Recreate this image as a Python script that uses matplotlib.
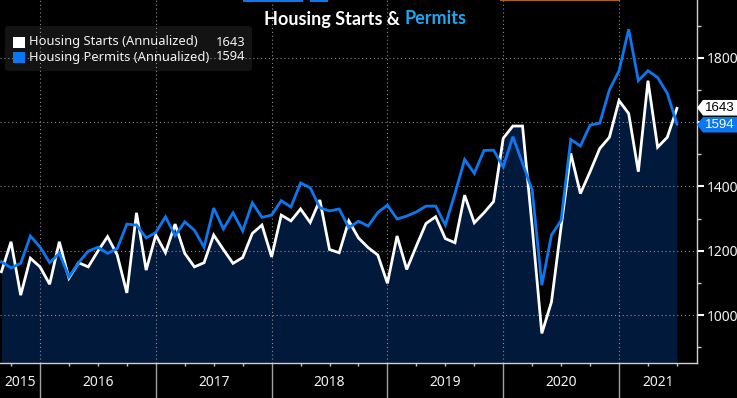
import numpy as np
import matplotlib
matplotlib.use("Agg")
import matplotlib.pyplot as plt
from matplotlib.patches import Polygon, FancyBboxPatch, Rectangle
from matplotlib.transforms import blended_transform_factory

# monthly data, Aug 2015 .. Jun 2021, thousands (annualized)
first_year, first_month = 2015, 8
starts = [1135, 1228, 1062, 1177, 1150, 1096, 1228, 1115, 1163, 1150, 1199, 1244,
          1187, 1069, 1318, 1140, 1249, 1194, 1283, 1192, 1150, 1163, 1249, 1204,
          1161, 1179, 1254, 1280, 1181, 1311, 1293, 1330, 1288, 1358, 1204, 1194,
          1293, 1240, 1210, 1187, 1099, 1246, 1142, 1215, 1285, 1306, 1238, 1225,
          1373, 1287, 1318, 1353, 1550, 1588, 1588, 1275, 943, 1041, 1275, 1503,
          1378, 1446, 1518, 1553, 1667, 1627, 1446, 1729, 1522, 1553, 1643]
permits = [1166, 1147, 1161, 1246, 1212, 1163, 1192, 1119, 1163, 1199, 1211, 1192,
           1207, 1283, 1280, 1240, 1257, 1306, 1247, 1290, 1264, 1211, 1333, 1268,
           1318, 1262, 1349, 1304, 1311, 1356, 1336, 1411, 1396, 1334, 1324, 1330,
           1272, 1292, 1277, 1319, 1342, 1299, 1308, 1321, 1339, 1339, 1280, 1378,
           1484, 1441, 1512, 1513, 1461, 1555, 1472, 1389, 1093, 1249, 1295, 1546,
           1526, 1591, 1597, 1700, 1760, 1889, 1729, 1760, 1739, 1690, 1594]
years = [2015, 2016, 2017, 2018, 2019, 2020, 2021]
yticks = [1000, 1200, 1400, 1600, 1800]
series_names = ["Housing Starts (Annualized)", "Housing Permits (Annualized)"]

W, H = 737, 398
FONT = "Noto Sans"
WHITE = "#f2f2f2"
BLUE = "#0a78f0"
NAVY = "#011a3c"

# x in months since Jan 2016, each month plotted at month end
off = (first_year - 2016) * 12 + (first_month - 1) + 1
x = np.arange(len(starts)) + off

fig = plt.figure(figsize=(W / 100, H / 100), dpi=100, facecolor="black")
ax = fig.add_axes([0, 35 / H, 697 / W, 363 / H])
ax.set_facecolor("black")

ymin, ymax = 851, 1980
ax.fill_between(x, starts, ymin, color=NAVY, lw=0, zorder=1)
ax.plot(x, starts, color="white", lw=2, zorder=3, solid_joinstyle="miter")
ax.plot(x, permits, color=BLUE, lw=2, zorder=4, solid_joinstyle="miter")

ax.set_xlim(-4.145, 68.08)
ax.set_ylim(ymin, ymax)

# y axis on the right; the 1600 label sits under the last-value tags
ax.yaxis.tick_right()
ax.set_yticks(yticks)
ax.set_yticklabels(["" if t == 1600 else str(t) for t in yticks], family=FONT)
ax.set_yticks([900, 1100, 1300, 1500, 1700, 1900], minor=True)
ax.tick_params(axis="y", which="major", direction="out", length=5, width=1.5,
               color="white", labelcolor=WHITE, labelsize=10, pad=2)
ax.tick_params(axis="y", which="minor", direction="out", length=3, width=1, color="#cccccc")

# x axis: year boundaries + quarter ticks
yb = [(y - 2016) * 12 for y in years[1:]]
ax.set_xticks(yb)
ax.set_xticks([q for q in range(-3, 69, 3) if q % 12 != 0], minor=True)
ax.set_xticklabels([])
ax.tick_params(axis="x", which="major", direction="out", length=26, width=1, color="#a0a0a0")
ax.tick_params(axis="x", which="minor", direction="out", length=2.5, width=1, color="#c8c8c8")

ax.grid(True, which="major", color="#8c8c8c", ls=(0, (1, 2.5)), lw=0.8)

for s in ["top", "left"]:
    ax.spines[s].set_visible(False)
for s in ["right", "bottom"]:
    ax.spines[s].set_color("#d0d0d0")
    ax.spines[s].set_linewidth(1)

tr = blended_transform_factory(ax.transData, ax.transAxes)
xl, xr = ax.get_xlim()
for y in years:
    a = max((y - 2016) * 12, xl)
    b = min((y - 2015) * 12, xr)
    ax.text((a + b) / 2, -20 / 363, str(y), transform=tr, ha="center", va="center",
            color=WHITE, fontsize=10, family=FONT, clip_on=False)

# title, two colours, centred around x=365
tkw = dict(fontsize=13, fontweight="bold", family="Lato", va="center", ha="left")
t1 = fig.text(0, 1 - 19 / H, "Housing Starts & ", color="white", **tkw)
t2 = fig.text(0, 1 - 19 / H, "Permits", color="#1aa8f0", **tkw)
r = fig.canvas.get_renderer()
w1 = t1.get_window_extent(r).width
w2 = t2.get_window_extent(r).width
x0 = 365 - (w1 + w2) / 2
t1.set_x(x0 / W)
t2.set_x((x0 + w1) / W)

# legend box
ax.add_patch(FancyBboxPatch((5 / W, 1 - 71 / H), 247 / W, 45 / H,
                            boxstyle="round,pad=0,rounding_size=0.006",
                            fc="#131313", ec="none", transform=fig.transFigure, zorder=0.5))
last = [starts[-1], permits[-1]]
for i, (name, col) in enumerate(zip(series_names, ["white", BLUE])):
    yc = 42 + i * 15
    fig.patches.append(Rectangle((13 / W, 1 - (yc + 6) / H), 12 / W, 11 / H,
                                 fc=col, ec="none", transform=fig.transFigure))
    fig.text(29 / W, 1 - yc / H, name, color=WHITE, fontsize=9.3, family=FONT,
             ha="left", va="center")
    fig.text(245 / W, 1 - yc / H, str(last[i]), color=WHITE, fontsize=9.3, family=FONT,
             ha="right", va="center")

# last value tags
tt = blended_transform_factory(fig.transFigure, ax.transData)
px = 363 / (ymax - ymin)
h = 7.8 / px
tags = [(starts[-1], starts[-1] + 0.6 / px, "white", "black"),
        (permits[-1], permits[-1] - 0.6 / px, BLUE, "white")]
for v, vy, fc, tc in tags:
    poly = Polygon([(697 / W, vy), (703 / W, vy + h), (1.01, vy + h), (1.01, vy - h), (703 / W, vy - h)],
                   closed=True, fc=fc, ec="none", transform=tt, clip_on=False, zorder=5)
    ax.add_patch(poly)
    ax.text(720 / W, vy, str(v), transform=tt, color=tc, fontsize=9.5, family="Liberation Sans",
            ha="center", va="center", clip_on=False, zorder=6)

# thin bars at the top edge
for x0, x1, c, hh in [(243, 303, BLUE, 2), (310, 328, BLUE, 2), (500, 620, "#a8640e", 1)]:
    fig.patches.append(Rectangle((x0 / W, 1 - hh / H), (x1 - x0) / W, hh / H,
                                 fc=c, ec="none", transform=fig.transFigure))

fig.savefig("out.png", dpi=100, facecolor="black")
